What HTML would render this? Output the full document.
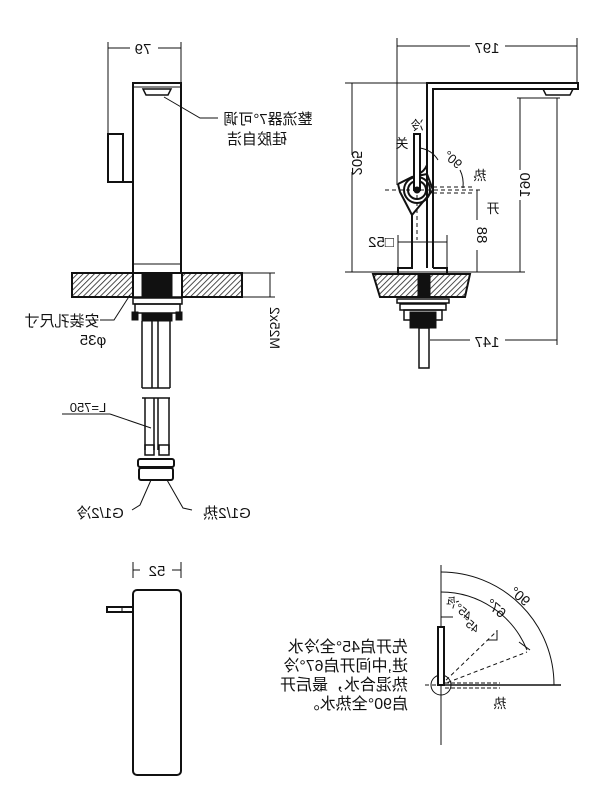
<!DOCTYPE html>
<html><head><meta charset="utf-8"><style>
html,body{margin:0;padding:0;background:#fff;}
svg{display:block}
text{font-family:"Liberation Sans","Noto Sans CJK SC",sans-serif;fill:#111;}
</style></head><body>
<svg width="600" height="800" viewBox="0 0 600 800" xmlns="http://www.w3.org/2000/svg">
<defs>
<pattern id="h" width="4" height="4" patternUnits="userSpaceOnUse" patternTransform="rotate(45)">
<rect width="4" height="4" fill="#fff"/><line x1="0" y1="0" x2="0" y2="4" stroke="#222" stroke-width="1.6"/>
</pattern>
</defs>
<g fill="none" stroke="#111" stroke-width="1">
<line x1="108" y1="42" x2="108" y2="135"/><line x1="181" y1="42" x2="181" y2="83"/>
<line x1="108" y1="48" x2="130" y2="48"/><line x1="158" y1="48" x2="181" y2="48"/>
<rect x="133" y="83" width="48" height="190" stroke-width="2"/>
<line x1="133" y1="87" x2="181" y2="87"/>
<line x1="133" y1="264" x2="181" y2="264"/>
<path d="M143 89 L171 89 L168 95 L146 95 Z" stroke-width="1.5"/>
<path d="M133 182 L108 182 L108 134 L123 134 L123 182" stroke-width="2"/>
<path d="M164 97 L200 118 L218 118" />
<rect x="72" y="273" width="61" height="24" fill="url(#h)" stroke-width="2"/>
<rect x="182" y="273" width="60" height="24" fill="url(#h)" stroke-width="2"/>
<rect x="133" y="273" width="49" height="24" stroke-width="1.5"/>
<rect x="142" y="273" width="30" height="24" fill="#111"/>
<line x1="242" y1="273" x2="275" y2="273"/><line x1="242" y1="297" x2="275" y2="297"/>
<line x1="270" y1="273" x2="270" y2="297"/>
<rect x="133" y="298" width="49" height="6" stroke-width="1.5"/>
<rect x="135" y="304" width="45" height="9" stroke-width="1.5"/>
<rect x="142" y="313" width="30" height="8" fill="#111"/>
<rect x="132" y="312" width="6" height="8" fill="#111"/><rect x="176" y="312" width="6" height="8" fill="#111"/>
<path d="M130 295 L114 320 L100 320"/>
<g stroke-width="1.5">
<line x1="142" y1="321" x2="142" y2="388"/><line x1="152" y1="321" x2="152" y2="388"/>
<line x1="158" y1="321" x2="158" y2="388"/><line x1="170" y1="321" x2="170" y2="388"/>
<line x1="142" y1="388" x2="170" y2="388"/>
<line x1="142" y1="398" x2="170" y2="398"/>
<line x1="145" y1="398" x2="145" y2="450"/><line x1="154" y1="398" x2="154" y2="450"/>
<line x1="158" y1="398" x2="158" y2="450"/><line x1="169" y1="398" x2="169" y2="450"/>
<rect x="145" y="445" width="9" height="10"/><rect x="159" y="445" width="10" height="10"/>
<rect x="138" y="459" width="36" height="8" rx="2" stroke-width="2"/>
<rect x="139" y="468" width="34" height="12" rx="2" stroke-width="2"/>
</g>
<line x1="62" y1="414" x2="110" y2="414"/><path d="M110 414 L151 428"/>
<path d="M151 480 L140 505 L132 510"/><path d="M167 480 L183 508 L192 510"/>
<line x1="397" y1="38" x2="397" y2="185"/><line x1="577" y1="38" x2="577" y2="83"/>
<line x1="397" y1="46" x2="470" y2="46"/><line x1="505" y1="46" x2="577" y2="46"/>
<path d="M427 268 L427 83 L578 83 L578 89 L433 89 L433 268" stroke-width="2"/>
<path d="M543 89 L573 89 L570 95 L546 95 Z" stroke-width="1.5"/>
<line x1="345" y1="83" x2="427" y2="83"/><line x1="352" y1="83" x2="352" y2="155"/><line x1="352" y1="172" x2="352" y2="272"/>
<line x1="517" y1="98" x2="560" y2="98"/>
<line x1="520" y1="98" x2="520" y2="170"/><line x1="520" y1="200" x2="520" y2="272"/>
<line x1="557" y1="98" x2="557" y2="345"/>
<line x1="477" y1="190" x2="477" y2="220"/><line x1="477" y1="250" x2="477" y2="272"/>
<line x1="345" y1="272" x2="525" y2="272"/>
<path d="M427 165 Q424 172 418 174" stroke-width="2"/>
<path d="M398 184 L412 177 L427 174 L433 190 L422 203 L412 215 L412 268 L398 268 L398 274 L447 274 L447 268 L433 268" stroke-width="2"/>
<path d="M398 184 L400 192 L412 215" stroke-width="2"/>
<circle cx="417" cy="190" r="13" stroke-width="2"/><circle cx="417" cy="190" r="9" stroke-width="2"/>
<rect x="414" y="134" width="6" height="56" stroke-width="2" fill="#fff"/>
<circle cx="417" cy="190" r="3" fill="#111"/>
<line x1="385" y1="190" x2="480" y2="190" stroke-dasharray="4,3"/>
<line x1="433" y1="187" x2="475" y2="187" stroke-dasharray="4,3"/><line x1="433" y1="193" x2="475" y2="193" stroke-dasharray="4,3"/>
<line x1="417" y1="195" x2="417" y2="240" stroke-dasharray="4,3"/>
<path d="M420 148 Q432 150 438 160"/><path d="M460 170 Q464 178 463 188"/>
<line x1="398" y1="235" x2="398" y2="268"/><line x1="447" y1="235" x2="447" y2="268"/><line x1="398" y1="242" x2="447" y2="242"/>
<path d="M373 274 L470 274 L465 297 L380 297 Z" fill="url(#h)" stroke-width="2"/>
<rect x="418" y="274" width="12" height="23" fill="#111"/>
<rect x="397" y="299" width="52" height="4" stroke-width="1.5"/>
<rect x="400" y="304" width="46" height="6" stroke-width="1.5"/>
<rect x="404" y="310" width="38" height="10" stroke-width="1.5"/>
<rect x="410" y="312" width="26" height="16" fill="#111"/>
<rect x="419" y="328" width="10" height="40" stroke-width="1.5"/>
<line x1="430" y1="340" x2="470" y2="340"/><line x1="505" y1="340" x2="557" y2="340"/>
<line x1="133" y1="562" x2="133" y2="578"/><line x1="181" y1="562" x2="181" y2="578"/>
<line x1="133" y1="570" x2="140" y2="570"/><line x1="172" y1="570" x2="181" y2="570"/>
<rect x="133" y="590" width="48" height="185" rx="4" stroke-width="2"/>
<rect x="107" y="607" width="26" height="5" stroke-width="2"/><line x1="122" y1="607" x2="122" y2="612"/>
<line x1="441" y1="565" x2="441" y2="745" />
<line x1="441" y1="685" x2="561" y2="685" stroke-width="1.5"/>
<path d="M441 572 A113 113 0 0 1 554 685"/>
<path d="M441 592 A93 93 0 0 1 527 650"/>
<line x1="519" y1="642" x2="530" y2="650"/>
<line x1="441" y1="685" x2="497" y2="631" stroke-dasharray="4,3"/>
<line x1="441" y1="685" x2="527" y2="652" stroke-dasharray="4,3"/>
<line x1="425" y1="685" x2="438" y2="685" stroke-dasharray="4,3"/>
<line x1="445" y1="683" x2="500" y2="683" stroke-dasharray="4,2"/><line x1="445" y1="688" x2="500" y2="688" stroke-dasharray="4,2"/>
<path d="M441 617 L453 617"/><path d="M488 640 L497 640 L497 630"/>
<circle cx="441" cy="685" r="10"/>
<rect x="438" y="627" width="6" height="58" stroke-width="2" fill="#fff"/>
</g>
<g font-size="15">
<text transform="translate(143,54) scale(-1,1)" text-anchor="middle">79</text>
<text transform="translate(268,124) scale(-1,1)" text-anchor="middle">整流器7°可调</text>
<text transform="translate(257,144) scale(-1,1)" text-anchor="middle">硅胶自洁</text>
<text transform="translate(270,328) rotate(90) scale(-1,1)" text-anchor="middle" font-size="14">M25x2</text>
<text transform="translate(62,326) scale(-1,1)" text-anchor="middle">安装孔尺寸</text>
<text transform="translate(93,345) scale(-1,1)" text-anchor="middle">φ35</text>
<text transform="translate(88,412) scale(-1,1)" text-anchor="middle" font-size="13">L=750</text>
<text transform="translate(100,518) scale(-1,1)" text-anchor="middle">G1/2冷</text>
<text transform="translate(227,518) scale(-1,1)" text-anchor="middle">G1/2热</text>
<text transform="translate(487,53) scale(-1,1)" text-anchor="middle">197</text>
<text transform="translate(352,163) rotate(90) scale(-1,1)" text-anchor="middle">205</text>
<text transform="translate(520,185) rotate(90) scale(-1,1)" text-anchor="middle">190</text>
<text transform="translate(477,235) rotate(90) scale(-1,1)" text-anchor="middle">88</text>
<text transform="translate(487,347) scale(-1,1)" text-anchor="middle">147</text>
<text transform="translate(381,247) scale(-1,1)" text-anchor="middle">□52</text>
<text transform="translate(417,130) scale(-1,1)" text-anchor="middle" font-size="13">冷</text>
<text transform="translate(402,148) scale(-1,1)" text-anchor="middle" font-size="13">关</text>
<text transform="translate(450,163) rotate(40) scale(-1,1)" text-anchor="middle" font-size="13">90°</text>
<text transform="translate(480,180) scale(-1,1)" text-anchor="middle" font-size="13">热</text>
<text transform="translate(493,213) scale(-1,1)" text-anchor="middle" font-size="13">开</text>
<text transform="translate(157,576) scale(-1,1)" text-anchor="middle">52</text>
<text transform="translate(517,600) rotate(40) scale(-1,1)" text-anchor="middle" font-size="14">90°</text>
<text transform="translate(493,612) rotate(40) scale(-1,1)" text-anchor="middle" font-size="14">67°</text>
<text transform="translate(456,611) rotate(40) scale(-1,1)" text-anchor="middle" font-size="12">45°冷</text>
<text transform="translate(468,628) rotate(40) scale(-1,1)" text-anchor="middle" font-size="12">45°</text>
<text transform="translate(500,708) scale(-1,1)" text-anchor="middle" font-size="13">热</text>
<g font-size="16" text-anchor="start">
<text transform="translate(408,652) scale(-1,1)">先开启45°全冷水</text>
<text transform="translate(408,671) scale(-1,1)">进,中间开启67°冷</text>
<text transform="translate(408,690) scale(-1,1)">热混合水，最后开</text>
<text transform="translate(408,709) scale(-1,1)">启90°全热水。</text>
</g>
</g>
</svg>
</body></html>
